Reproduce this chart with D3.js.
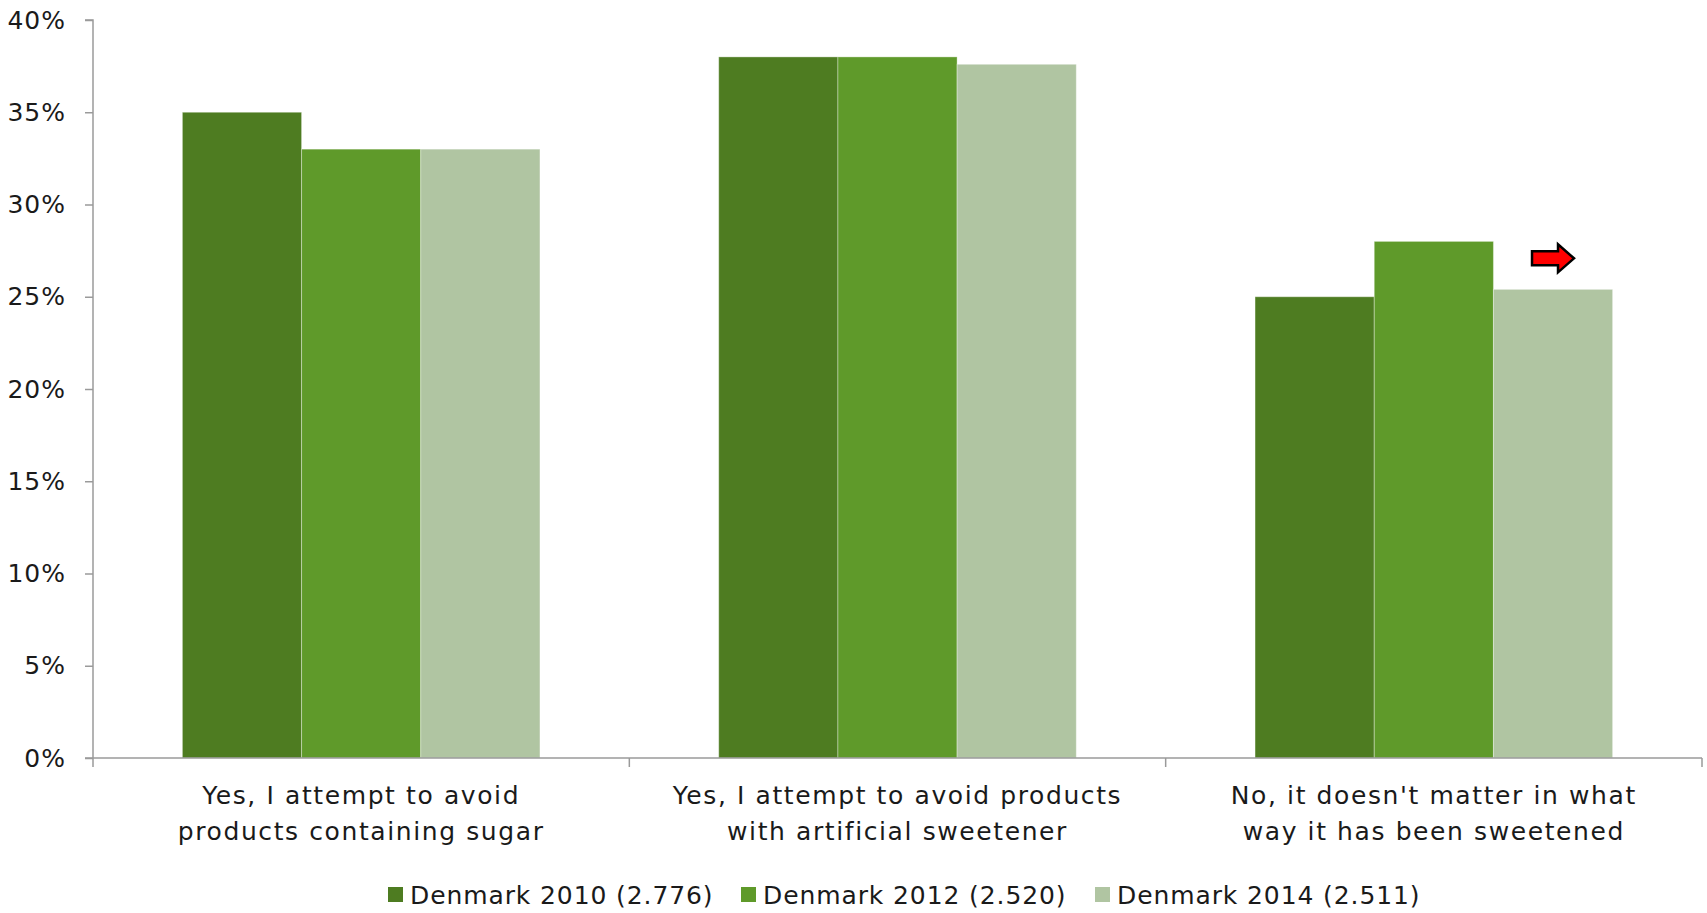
<!DOCTYPE html>
<html>
<head>
<meta charset="utf-8">
<script src="https://cdn.jsdelivr.net/npm/d3@7"></script>
<style>
  html, body { margin: 0; padding: 0; background: #fff; }
  svg text { font-family: "DejaVu Sans", sans-serif; fill: #1a1a1a; }
</style>
</head>
<body>
<svg id="chart" width="1707" height="913"></svg>
<script>
// Survey answers: does sweetener type matter when buying products?
const categories = [
  ["Yes, I attempt to avoid", "products containing sugar"],
  ["Yes, I attempt to avoid products", "with artificial sweetener"],
  ["No, it doesn't matter in what", "way it has been sweetened"]
];
const seriesNames = ["Denmark 2010 (2.776)", "Denmark 2012 (2.520)", "Denmark 2014 (2.511)"];
const values2010 = [35, 38, 25];
const values2012 = [33, 38, 28];
const values2014 = [33, 37.6, 25.4];
const yTicks = [0, 5, 10, 15, 20, 25, 30, 35, 40];
const colors = ["#4e7c21", "#5f9a2a", "#b0c5a2"];

const series = [values2010, values2012, values2014];

const svg = d3.select("#chart");
const plotLeft = 93, plotRight = 1702, plotTop = 20, plotBottom = 758;
const fontSize = 25;

const x0 = d3.scaleBand().domain(d3.range(categories.length)).range([plotLeft, plotRight]).paddingInner(0).paddingOuter(0);
const x1 = d3.scaleBand().domain(d3.range(series.length)).range([0, x0.bandwidth()]).paddingInner(0).paddingOuter(0.75);
const y = d3.scaleLinear().domain([0, 40]).range([plotBottom, plotTop]);

// Bars
series.forEach((vals, si) => {
  svg.append("g").selectAll("rect")
    .data(vals)
    .join("rect")
    .attr("x", (d, ci) => x0(ci) + x1(si))
    .attr("y", d => y(d))
    .attr("width", x1.bandwidth())
    .attr("height", d => y(0) - y(d))
    .attr("fill", colors[si])
    .attr("stroke", "rgba(255,255,255,0.35)")
    .attr("stroke-width", 1);
});

// Y axis
const yAxis = svg.append("g")
  .attr("transform", `translate(${plotLeft},0)`)
  .call(d3.axisLeft(y).tickValues(yTicks).tickSize(8).tickPadding(19).tickFormat(d => d + "%"));
yAxis.select(".domain").attr("stroke", "#9a9a9a").attr("stroke-width", 1.5).attr("d", `M-8,${plotTop}H0V${plotBottom + 9}`);
yAxis.selectAll(".tick line").attr("stroke", "#9a9a9a").attr("stroke-width", 1.5);
yAxis.selectAll(".tick text").attr("font-size", fontSize).attr("letter-spacing", 1)
  .attr("font-family", "DejaVu Sans, sans-serif").attr("fill", "#1a1a1a");

// X axis baseline and category separators
const xg = svg.append("g");
xg.append("line").attr("x1", plotLeft - 8).attr("x2", plotRight).attr("y1", plotBottom).attr("y2", plotBottom)
  .attr("stroke", "#9a9a9a").attr("stroke-width", 1.5);
d3.range(1, categories.length + 1).forEach(i => {
  const xx = i < categories.length ? x0(i) : plotRight;
  xg.append("line").attr("x1", xx).attr("x2", xx).attr("y1", plotBottom).attr("y2", plotBottom + 9)
    .attr("stroke", "#9a9a9a").attr("stroke-width", 1.5);
});

// Category labels (two lines each)
categories.forEach((lines, ci) => {
  const cx = x0(ci) + x0.bandwidth() / 2;
  const t = svg.append("text")
    .attr("x", cx)
    .attr("y", 804)
    .attr("text-anchor", "middle")
    .attr("letter-spacing", 1.6)
    .attr("font-size", fontSize);
  lines.forEach((ln, li) => {
    t.append("tspan").attr("x", cx).attr("dy", li === 0 ? 0 : 36).text(ln);
  });
});

// Trend arrow above the 2014 bar of the last category
const ax = x0(2) + x1(2) + x1.bandwidth() * 0.5;
const ay = y(values2014[2]) - 31;
svg.append("path")
  .attr("d", `M${ax - 21},${ay - 7}H${ax + 5}V${ay - 14}L${ax + 21},${ay}L${ax + 5},${ay + 14}V${ay + 7}H${ax - 21}Z`)
  .attr("fill", "#ff0000")
  .attr("stroke", "#000")
  .attr("stroke-width", 2.5)
  .attr("stroke-linejoin", "miter");

// Legend
const legendX = [388, 741, 1095];
seriesNames.forEach((name, si) => {
  const g = svg.append("g").attr("transform", `translate(${legendX[si]},895)`);
  g.append("rect").attr("x", 0).attr("y", -8).attr("width", 15).attr("height", 15).attr("fill", colors[si]);
  g.append("text").attr("x", 22).attr("y", 0).attr("dy", "0.35em").attr("font-size", fontSize)
    .attr("letter-spacing", 0.9).text(name);
});
</script>
</body>
</html>
